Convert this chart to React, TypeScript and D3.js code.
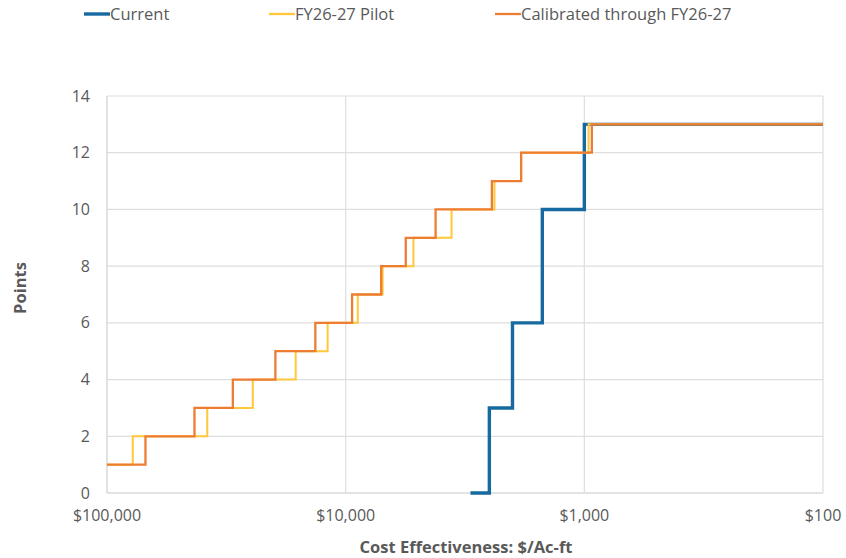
import React from "react";
import * as d3 from "d3";

// Cost thresholds ($/Ac-ft) at which each scoring curve steps up, paired with the points awarded.
const currentCost = [3000, 2500, 2000, 1500, 1000, 100];
const currentPoints = [0, 3, 6, 10, 13, 13];

const pilotCost = [100000, 78000, 38000, 24500, 16200, 11900, 8900, 7000, 5200, 3600, 2380, 1840, 960, 100];
const pilotPoints = [1, 2, 3, 4, 5, 6, 7, 8, 9, 10, 11, 12, 13, 13];

const calibratedCost = [100000, 69000, 43000, 29700, 19700, 13400, 9400, 7100, 5600, 4200, 2440, 1840, 930, 100];
const calibratedPoints = [1, 2, 3, 4, 5, 6, 7, 8, 9, 10, 11, 12, 13, 13];

const xTicks = [100000, 10000, 1000, 100];
const yTicks = [0, 2, 4, 6, 8, 10, 12, 14];

const seriesNames = ["Current", "FY26-27 Pilot", "Calibrated through FY26-27"];
const seriesColors = ["#176a9f", "#ffc73a", "#ec7d33"];

const W = 846;
const H = 558;
const FONT = "'Open Sans', 'Liberation Sans', sans-serif";
const TEXT = "#595959";

export default function App() {
  const x = d3.scaleLog().domain([100000, 100]).range([107, 823]);
  const y = d3.scaleLinear().domain([0, 14]).range([493, 96]);

  const line = d3
    .line<[number, number]>()
    .x((d) => x(d[0]))
    .y((d) => y(d[1]))
    .curve(d3.curveStepAfter);

  const series = [
    { cost: currentCost, pts: currentPoints, width: 3.4 },
    { cost: pilotCost, pts: pilotPoints, width: 2 },
    { cost: calibratedCost, pts: calibratedPoints, width: 2.3 },
  ];

  const fmt = (v: number) => "$" + d3.format(",")(v);

  const legendX = [84, 269, 495];

  return (
    <svg
      width={W}
      height={H}
      style={{ position: "absolute", left: 0, top: 0, background: "#fff" }}
      fontFamily={FONT}
    >
      {/* horizontal gridlines */}
      {yTicks.map((t) => (
        <line
          key={"gy" + t}
          x1={107}
          x2={823}
          y1={y(t)}
          y2={y(t)}
          stroke={t === 0 ? "#c8c8c8" : "#dedede"}
          strokeWidth={1.2}
        />
      ))}
      {/* vertical gridlines */}
      {xTicks.map((t) => (
        <line
          key={"gx" + t}
          x1={x(t)}
          x2={x(t)}
          y1={96}
          y2={493}
          stroke={t === 100000 ? "#cfcfcf" : "#dedede"}
          strokeWidth={1.2}
        />
      ))}

      {/* y tick labels */}
      {yTicks.map((t) => (
        <text
          key={"ly" + t}
          x={90}
          y={y(t)}
          dy="0.35em"
          textAnchor="end"
          fontSize={16}
          fill={TEXT}
        >
          {t}
        </text>
      ))}
      {/* x tick labels */}
      {xTicks.map((t) => (
        <text
          key={"lx" + t}
          x={x(t)}
          y={515}
          dy="0.35em"
          textAnchor="middle"
          fontSize={16}
          fill={TEXT}
        >
          {fmt(t)}
        </text>
      ))}

      {/* axis titles */}
      <text x={466} y={547} dy="0.35em" textAnchor="middle" fontSize={16.5} fontWeight={700} fill={TEXT}>
        Cost Effectiveness: $/Ac-ft
      </text>
      <text
        transform={`translate(20,288) rotate(-90)`}
        dy="0.35em"
        textAnchor="middle"
        fontSize={16.5}
        fontWeight={700}
        fill={TEXT}
      >
        Points
      </text>

      {/* step curves */}
      {series.map((s, i) => (
        <path
          key={"s" + i}
          d={line(s.cost.map((c, j) => [c, s.pts[j]] as [number, number])) || ""}
          fill="none"
          stroke={seriesColors[i]}
          strokeWidth={s.width}
          strokeLinejoin="miter"
        />
      ))}

      {/* legend */}
      {seriesNames.map((n, i) => (
        <g key={"lg" + i} transform={`translate(${legendX[i]},14)`}>
          <line x1={0} x2={26} y1={0} y2={0} stroke={seriesColors[i]} strokeWidth={i === 0 ? 3.4 : 2.3} />
          <text x={26} y={0} dy="0.35em" fontSize={16.5} fill={TEXT}>
            {n}
          </text>
        </g>
      ))}
    </svg>
  );
}
